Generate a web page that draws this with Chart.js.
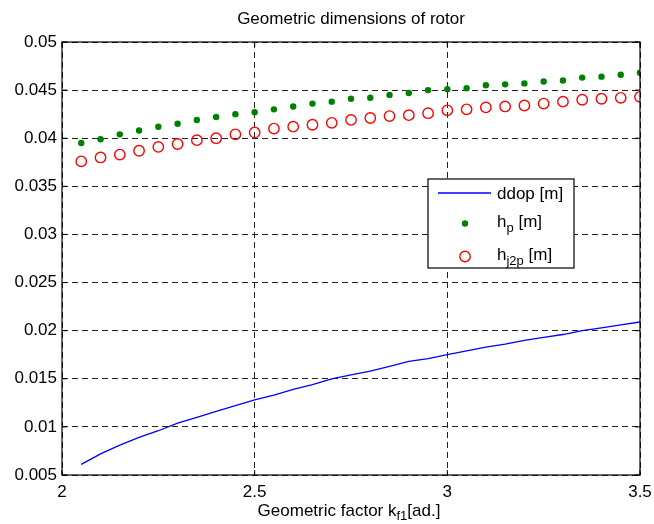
<!DOCTYPE html>
<html>
<head>
<meta charset="utf-8">
<script src="https://cdn.jsdelivr.net/npm/chart.js@4.4.1/dist/chart.umd.min.js"></script>
<style>
  html, body { margin: 0; padding: 0; background: #fff; }
  #wrap { width: 654px; height: 524px; }
</style>
</head>
<body>
<div id="wrap"><canvas id="c" width="654" height="524"></canvas></div>
<script>
const xValues = [2.05,2.10,2.15,2.20,2.25,2.30,2.35,2.40,2.45,2.50,2.55,2.60,2.65,2.70,2.75,2.80,2.85,2.90,2.95,3.00,3.05,3.10,3.15,3.20,3.25,3.30,3.35,3.40,3.45,3.50];
const ddop = [0.0061,0.0072,0.0081,0.0089,0.0096,0.0104,0.0110,0.0116,0.0122,0.0128,0.0133,0.0139,0.0144,0.0150,0.0154,0.0158,0.0163,0.0168,0.0171,0.0175,0.0179,0.0183,0.0186,0.0190,0.0193,0.0196,0.0200,0.0203,0.0206,0.0209];
const hp = [0.0395,0.0399,0.0404,0.0408,0.0412,0.0415,0.0419,0.0422,0.0425,0.0427,0.0430,0.0433,0.0436,0.0438,0.0441,0.0442,0.0445,0.0447,0.0450,0.0451,0.0452,0.0455,0.0456,0.0457,0.0459,0.0460,0.0463,0.0464,0.0466,0.0468];
const hj2p = [0.0376,0.0380,0.0383,0.0387,0.0391,0.0394,0.0398,0.0400,0.0404,0.0406,0.0410,0.0412,0.0414,0.0416,0.0419,0.0421,0.0423,0.0424,0.0426,0.0429,0.0430,0.0432,0.0433,0.0434,0.0436,0.0438,0.0440,0.0441,0.0442,0.0443];
const xTicks = [2, 2.5, 3, 3.5];
const xTickLabels = ['2', '2.5', '3', '3.5'];
const yTicks = [0.005,0.01,0.015,0.02,0.025,0.03,0.035,0.04,0.045,0.05];
const yTickLabels = ['0.005','0.01','0.015','0.02','0.025','0.03','0.035','0.04','0.045','0.05'];
const titleText = 'Geometric dimensions of rotor';
const xTitleParts = [['Geometric factor k', false], ['f1', true], ['[ad.]', false]];
const legendItems = [
  [['ddop [m]', false]],
  [['h', false], ['p', true], [' [m]', false]],
  [['h', false], ['j2p', true], [' [m]', false]]
];

const FONT = '"Liberation Sans", Arial, Helvetica, sans-serif';
const FS = 17, SUB = 13;

function toPts(ys) { return xValues.map((x, i) => ({ x: x, y: ys[i] })); }

function drawParts(ctx, parts, x, baseline, size, subSize, subDrop) {
  let cx = x;
  parts.forEach(([t, sub]) => {
    ctx.font = (sub ? subSize : size) + 'px ' + FONT;
    ctx.fillText(t, cx, sub ? baseline + subDrop : baseline);
    cx += ctx.measureText(t).width;
  });
  return cx - x;
}
function measureParts(ctx, parts, size, subSize) {
  let w = 0;
  parts.forEach(([t, sub]) => {
    ctx.font = (sub ? subSize : size) + 'px ' + FONT;
    w += ctx.measureText(t).width;
  });
  return w;
}

const decor = {
  id: 'decor',
  afterDraw(chart) {
    const ctx = chart.ctx;
    const a = chart.chartArea;
    const xs = chart.scales.x, ys = chart.scales.y;
    ctx.save();
    ctx.strokeStyle = '#000';
    ctx.lineWidth = 1.2;
    ctx.setLineDash([]);
    ctx.strokeRect(a.left, a.top, a.right - a.left, a.bottom - a.top);
    ctx.lineWidth = 1;
    ctx.beginPath();
    xTicks.forEach(v => {
      const p = xs.getPixelForValue(v);
      ctx.moveTo(p, a.bottom); ctx.lineTo(p, a.bottom - 5);
      ctx.moveTo(p, a.top); ctx.lineTo(p, a.top + 5);
    });
    yTicks.forEach(v => {
      const p = ys.getPixelForValue(v);
      ctx.moveTo(a.left, p); ctx.lineTo(a.left + 5, p);
      ctx.moveTo(a.right, p); ctx.lineTo(a.right - 5, p);
    });
    ctx.stroke();
    ctx.fillStyle = '#000';
    ctx.font = FS + 'px ' + FONT;
    ctx.textAlign = 'center';
    ctx.textBaseline = 'alphabetic';
    ctx.fillText(titleText, 351, 24);
    ctx.textAlign = 'left';
    const w = measureParts(ctx, xTitleParts, FS, SUB);
    drawParts(ctx, xTitleParts, 349 - w / 2, 516, FS, SUB, 4);
    const L = 428, T = 179, R = 574, B = 268;
    ctx.fillStyle = '#fff';
    ctx.fillRect(L, T, R - L, B - T);
    ctx.strokeStyle = '#000';
    ctx.lineWidth = 1.2;
    ctx.strokeRect(L, T, R - L, B - T);
    ctx.strokeStyle = '#0000ff';
    ctx.lineWidth = 1.3;
    ctx.beginPath(); ctx.moveTo(438, 193); ctx.lineTo(491, 193); ctx.stroke();
    ctx.fillStyle = '#008000';
    ctx.beginPath(); ctx.arc(465, 223.5, 3.2, 0, Math.PI * 2); ctx.fill();
    ctx.strokeStyle = '#ff0000';
    ctx.lineWidth = 1.4;
    ctx.beginPath(); ctx.arc(465, 256.5, 5.2, 0, Math.PI * 2); ctx.stroke();
    ctx.fillStyle = '#000';
    const baselines = [199, 227, 260];
    legendItems.forEach((parts, i) => drawParts(ctx, parts, 497, baselines[i], FS, SUB, 5));
    ctx.restore();
  }
};

new Chart(document.getElementById('c'), {
  type: 'scatter',
  data: {
    datasets: [
      { label: 'ddop [m]', data: toPts(ddop), showLine: true, borderColor: '#0000ff', borderWidth: 1.3, pointRadius: 0, fill: false, tension: 0 },
      { label: 'h_p [m]', data: toPts(hp), showLine: false, backgroundColor: '#008000', borderColor: '#008000', pointRadius: 3.2, borderWidth: 0 },
      { label: 'h_j2p [m]', data: toPts(hj2p), showLine: false, backgroundColor: 'rgba(0,0,0,0)', borderColor: '#ff0000', pointRadius: 5.2, borderWidth: 1.4 }
    ]
  },
  options: {
    responsive: false,
    animation: false,
    events: [],
    layout: { padding: { left: 0, right: 14, top: 42, bottom: 0 } },
    plugins: { legend: { display: false }, title: { display: false }, tooltip: { enabled: false } },
    scales: {
      x: {
        type: 'linear', min: 2, max: 3.5,
        afterBuildTicks: s => { s.ticks = xTicks.map(v => ({ value: v })); },
        afterFit: s => { s.height = 49; s.paddingLeft = 0; s.paddingRight = 0; },
        ticks: { callback: (v, i) => xTickLabels[i], color: '#000', font: { family: FONT, size: FS }, padding: 7, maxRotation: 0, autoSkip: false },
        grid: { color: '#222', lineWidth: 1, drawTicks: false },
        border: { display: false, dash: [6, 4] }
      },
      y: {
        type: 'linear', min: 0.005, max: 0.05,
        afterBuildTicks: s => { s.ticks = yTicks.map(v => ({ value: v })); },
        afterFit: s => { s.width = 62; s.paddingTop = 0; s.paddingBottom = 0; },
        ticks: { callback: (v, i) => yTickLabels[i], color: '#000', font: { family: FONT, size: FS }, padding: 5, autoSkip: false },
        grid: { color: '#222', lineWidth: 1, drawTicks: false },
        border: { display: false, dash: [6, 4] }
      }
    }
  },
  plugins: [decor]
});
</script>
</body>
</html>
